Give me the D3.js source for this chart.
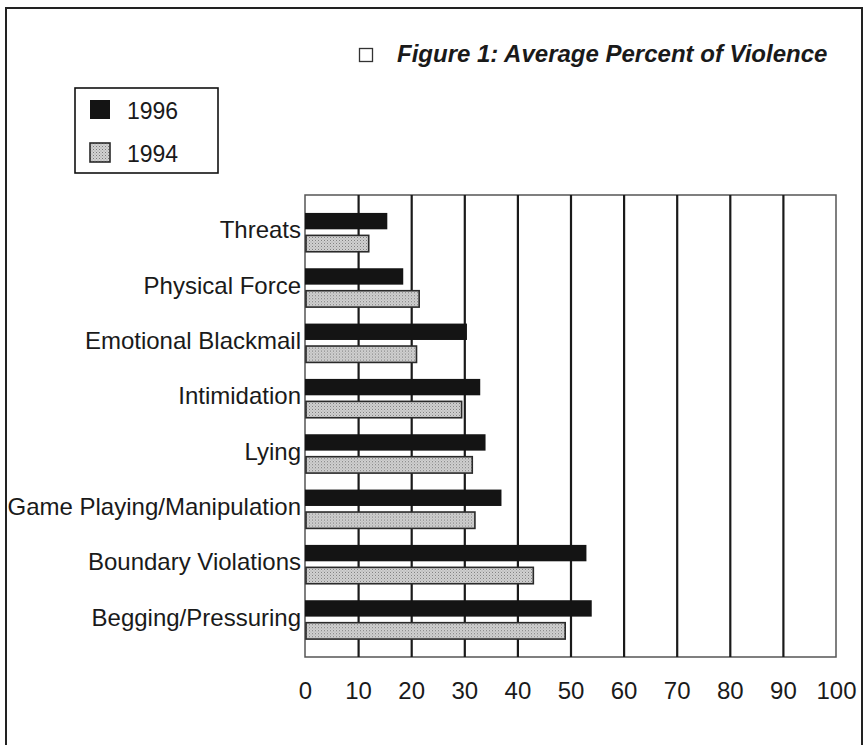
<!DOCTYPE html>
<html>
<head>
<meta charset="utf-8">
<script src="https://cdn.jsdelivr.net/npm/d3@7"></script>
<style>
  body { margin: 0; background: #fff; }
  svg { display: block; font-family: "Liberation Sans", Arial, Helvetica, sans-serif; }
</style>
</head>
<body>
<div id="chart"></div>
<script>
var categories = ["Threats", "Physical Force", "Emotional Blackmail", "Intimidation",
                  "Lying", "Game Playing/Manipulation", "Boundary Violations", "Begging/Pressuring"];
var series = ["1996", "1994"];
var values1996 = [15.5, 18.5, 30.5, 33, 34, 37, 53, 54];
var values1994 = [12, 21.5, 21, 29.5, 31.5, 32, 43, 49];
var xTicks = [0, 10, 20, 30, 40, 50, 60, 70, 80, 90, 100];
var title = "Figure 1: Average Percent of Violence";

function main() {
    var W = 864, H = 745;
    var left = 305, right = 836, top = 195, bottom = 657;

    var svg = d3.select("#chart").append("svg")
        .attr("width", W).attr("height", H);

    // stipple pattern for the 1994 bars
    var defs = svg.append("defs");
    var pat = defs.append("pattern").attr("id", "stip")
        .attr("width", 3).attr("height", 3).attr("patternUnits", "userSpaceOnUse");
    pat.append("rect").attr("width", 3).attr("height", 3).attr("fill", "#d2d2d2");
    pat.append("rect").attr("x", 0).attr("y", 0).attr("width", 1).attr("height", 1).attr("fill", "#7a7a7a");
    pat.append("rect").attr("x", 1.5).attr("y", 1.5).attr("width", 1).attr("height", 1).attr("fill", "#9a9a9a");

    // outer frame
    svg.append("path")
        .attr("d", "M6," + H + "V8H862V" + H)
        .attr("fill", "none").attr("stroke", "#222").attr("stroke-width", 2);

    var x = d3.scaleLinear().domain([0, 100]).range([left, right]);
    var y = d3.scaleBand().domain(categories).range([top, bottom])
        .paddingInner(0.298).paddingOuter(0.324);
    var y1 = d3.scaleBand().domain(series).range([0, y.bandwidth()]).paddingInner(0.27);

    var rows = categories.map(function(c, i) {
        return { cat: c, v: [values1996[i], values1994[i]] };
    });

    // plot border
    svg.append("rect")
        .attr("x", left).attr("y", top)
        .attr("width", right - left).attr("height", bottom - top)
        .attr("fill", "none").attr("stroke", "#555").attr("stroke-width", 1.5);

    // grid lines
    var grid = svg.append("g").attr("transform", "translate(0," + bottom + ")")
        .call(d3.axisBottom(x).tickValues(xTicks.slice(1, -1)).tickSize(-(bottom - top)).tickFormat(""));
    grid.select(".domain").remove();
    grid.selectAll("line").attr("stroke", "#1a1a1a").attr("stroke-width", 2.2);

    // bars
    var g = svg.append("g");
    var grp = g.selectAll("g").data(rows).enter().append("g")
        .attr("transform", function(d) { return "translate(0," + y(d.cat) + ")"; });

    grp.append("rect")
        .attr("x", x(0))
        .attr("y", y1("1996"))
        .attr("width", function(d) { return x(d.v[0]) - x(0); })
        .attr("height", y1.bandwidth())
        .attr("fill", "#141414");

    grp.append("rect")
        .attr("x", x(0) + 1)
        .attr("y", y1("1994"))
        .attr("width", function(d) { return x(d.v[1]) - x(0) - 1; })
        .attr("height", y1.bandwidth())
        .attr("fill", "url(#stip)")
        .attr("stroke", "#2a2a2a").attr("stroke-width", 1.6);

    // category labels
    var ya = svg.append("g").attr("transform", "translate(" + left + ",0)")
        .call(d3.axisLeft(y).tickSize(0).tickPadding(4));
    ya.select(".domain").remove();
    ya.selectAll("text")
        .attr("font-size", 24).attr("fill", "#1a1a1a")
        .attr("font-family", "'Liberation Sans', Arial, sans-serif")
        .attr("dy", "0.25em");

    // x tick labels
    var xa = svg.append("g").attr("transform", "translate(0," + bottom + ")")
        .call(d3.axisBottom(x).tickValues(xTicks).tickSize(0).tickPadding(25));
    xa.select(".domain").remove();
    xa.selectAll("text")
        .attr("font-size", 24).attr("fill", "#1a1a1a")
        .attr("font-family", "'Liberation Sans', Arial, sans-serif");

    // title
    svg.append("rect").attr("x", 359.5).attr("y", 48.5).attr("width", 13).attr("height", 13)
        .attr("fill", "none").attr("stroke", "#333").attr("stroke-width", 1.3);
    svg.append("text").attr("x", 397).attr("y", 62)
        .attr("font-size", 24).attr("font-weight", "bold").attr("font-style", "italic")
        .attr("fill", "#1a1a1a")
        .text(title);

    // legend
    var lg = svg.append("g");
    lg.append("rect").attr("x", 75).attr("y", 88).attr("width", 143).attr("height", 85)
        .attr("fill", "none").attr("stroke", "#111").attr("stroke-width", 1.6);
    var items = lg.selectAll("g.item").data(series).enter().append("g")
        .attr("class", "item")
        .attr("transform", function(d, i) { return "translate(90," + (100 + i * 43) + ")"; });
    items.append("rect")
        .attr("width", 20).attr("height", 19)
        .attr("fill", function(d, i) { return i === 0 ? "#141414" : "url(#stip)"; })
        .attr("stroke", function(d, i) { return i === 0 ? "none" : "#2a2a2a"; })
        .attr("stroke-width", 1.6);
    items.append("text")
        .attr("x", 37).attr("y", 19)
        .attr("font-size", 23).attr("fill", "#1a1a1a")
        .text(function(d) { return d; });
}

main();
</script>
</body>
</html>
